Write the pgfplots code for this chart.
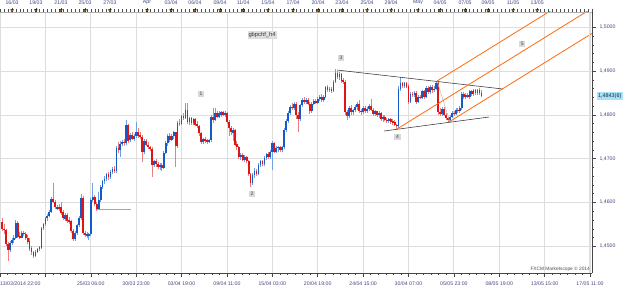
\documentclass[border=0pt]{standalone}
\usepackage{pgfplots}
\pgfplotsset{compat=1.18}
\usepackage{pgfplotstable}
\usepackage{fontspec}
\setmainfont{Liberation Sans}
\definecolor{lbl}{RGB}{70,70,130}
\definecolor{gridc}{RGB}{222,222,222}
\definecolor{pitch}{RGB}{255,105,10}
\definecolor{tri}{RGB}{245,165,20}
\pgfplotsset{
 colormap={bodymap}{rgb255=(225,20,20) rgb255=(225,20,20) rgb255=(20,90,200) rgb255=(20,90,200)},
 colormap={wickmap}{rgb255=(240,125,125) rgb255=(240,125,125) rgb255=(110,160,230) rgb255=(110,160,230)},
}
\pgfplotstableread{
x o h l c
1 1.4556 1.4565 1.4536 1.4540
2 1.4540 1.4550 1.4528 1.4537
3 1.4537 1.4540 1.4500 1.4505
4 1.4505 1.4510 1.4467 1.4492
5 1.4492 1.4512 1.4488 1.4508
6 1.4508 1.4518 1.4504 1.4514
7 1.4514 1.4525 1.4508 1.4520
8 1.4520 1.4560 1.4516 1.4554
9 1.4554 1.4558 1.4518 1.4522
10 1.4524 1.4532 1.4516 1.4520
11 1.4520 1.4535 1.4518 1.4530
12 1.4530 1.4536 1.4524 1.4527
13 1.4528 1.4532 1.4515 1.4520
14 1.4520 1.4525 1.4505 1.4510
15 1.4512 1.4518 1.4490 1.4494
16 1.4495 1.4500 1.4480 1.4486
17 1.4488 1.4490 1.4474 1.4478
18 1.4478 1.4492 1.4476 1.4488
19 1.4488 1.4496 1.4484 1.4494
20 1.4494 1.4500 1.4490 1.4498
21 1.4497 1.4545 1.4494 1.4542
22 1.4542 1.4554 1.4538 1.4550
23 1.4550 1.4568 1.4546 1.4565
24 1.4565 1.4574 1.4558 1.4570
25 1.4570 1.4582 1.4566 1.4578
26 1.4578 1.4612 1.4576 1.4609
27 1.4609 1.4645 1.4598 1.4602
28 1.4602 1.4606 1.4586 1.4590
29 1.4586 1.4594 1.4582 1.4590
30 1.4590 1.4596 1.4580 1.4584
31 1.4590 1.4600 1.4572 1.4576
32 1.4578 1.4582 1.4560 1.4564
33 1.4562 1.4576 1.4558 1.4572
34 1.4572 1.4575 1.4554 1.4558
35 1.4560 1.4566 1.4552 1.4556
36 1.4558 1.4560 1.4530 1.4535
37 1.4535 1.4540 1.4512 1.4516
38 1.4516 1.4535 1.4512 1.4530
39 1.4530 1.4552 1.4526 1.4548
40 1.4548 1.4570 1.4544 1.4565
41 1.4565 1.4620 1.4560 1.4610
42 1.4610 1.4614 1.4526 1.4530
43 1.4530 1.4536 1.4522 1.4526
44 1.4524 1.4532 1.4520 1.4528
45 1.4524 1.4530 1.4514 1.4527
46 1.4527 1.4610 1.4524 1.4606
47 1.4606 1.4645 1.4600 1.4612
48 1.4612 1.4616 1.4592 1.4596
49 1.4596 1.4600 1.4581 1.4584
50 1.4584 1.4625 1.4582 1.4606
51 1.4606 1.4640 1.4602 1.4636
52 1.4636 1.4652 1.4630 1.4648
53 1.4648 1.4660 1.4642 1.4654
54 1.4654 1.4668 1.4648 1.4664
55 1.4664 1.4670 1.4652 1.4658
56 1.4658 1.4675 1.4654 1.4670
57 1.4670 1.4680 1.4664 1.4676
58 1.4676 1.4684 1.4668 1.4672
59 1.4672 1.4730 1.4668 1.4725
60 1.4725 1.4738 1.4712 1.4720
61 1.4720 1.4740 1.4705 1.4734
62 1.4734 1.4742 1.4728 1.4738
63 1.4738 1.4745 1.4730 1.4735
64 1.4735 1.4788 1.4732 1.4777
65 1.4777 1.4780 1.4735 1.4740
66 1.4742 1.4758 1.4738 1.4754
67 1.4754 1.4760 1.4742 1.4746
68 1.4746 1.4756 1.4740 1.4752
69 1.4752 1.4784 1.4748 1.4762
70 1.4762 1.4770 1.4748 1.4752
71 1.4754 1.4760 1.4745 1.4750
72 1.4750 1.4755 1.4692 1.4715
73 1.4715 1.4745 1.4710 1.4740
74 1.4740 1.4746 1.4728 1.4732
75 1.4732 1.4738 1.4722 1.4726
76 1.4726 1.4730 1.4718 1.4722
77 1.4722 1.4726 1.4658 1.4686
78 1.4686 1.4698 1.4680 1.4694
79 1.4694 1.4700 1.4682 1.4688
80 1.4688 1.4692 1.4676 1.4680
81 1.4680 1.4690 1.4674 1.4686
82 1.4686 1.4690 1.4672 1.4678
83 1.4678 1.4718 1.4676 1.4714
84 1.4714 1.4740 1.4710 1.4735
85 1.4735 1.4756 1.4730 1.4752
86 1.4752 1.4758 1.4738 1.4742
87 1.4742 1.4756 1.4740 1.4752
88 1.4752 1.4764 1.4746 1.4760
89 1.4760 1.4762 1.4682 1.4730
90 1.4730 1.4786 1.4725 1.4782
91 1.4782 1.4790 1.4775 1.4780
92 1.4780 1.4800 1.4778 1.4798
93 1.4798 1.4804 1.4788 1.4792
94 1.4792 1.4827 1.4790 1.4812
95 1.4812 1.4827 1.4780 1.4784
96 1.4784 1.4796 1.4778 1.4792
97 1.4792 1.4796 1.4778 1.4782
98 1.4782 1.4794 1.4776 1.4790
99 1.4790 1.4792 1.4774 1.4778
100 1.4780 1.4786 1.4770 1.4774
101 1.4774 1.4778 1.4752 1.4758
102 1.4758 1.4762 1.4734 1.4738
103 1.4738 1.4748 1.4734 1.4745
104 1.4745 1.4750 1.4736 1.4740
105 1.4742 1.4746 1.4733 1.4738
106 1.4738 1.4746 1.4735 1.4742
107 1.4742 1.4800 1.4738 1.4795
108 1.4795 1.4816 1.4782 1.4788
109 1.4788 1.4815 1.4785 1.4805
110 1.4805 1.4810 1.4792 1.4796
111 1.4796 1.4808 1.4794 1.4804
112 1.4800 1.4810 1.4796 1.4806
113 1.4806 1.4808 1.4798 1.4800
114 1.4800 1.4808 1.4796 1.4804
115 1.4804 1.4806 1.4780 1.4784
116 1.4784 1.4788 1.4752 1.4770
117 1.4770 1.4774 1.4755 1.4760
118 1.4758 1.4770 1.4740 1.4765
119 1.4765 1.4768 1.4728 1.4732
120 1.4734 1.4740 1.4720 1.4726
121 1.4726 1.4730 1.4700 1.4704
122 1.4704 1.4712 1.4698 1.4708
123 1.4708 1.4712 1.4694 1.4698
124 1.4698 1.4708 1.4692 1.4704
125 1.4704 1.4706 1.4690 1.4694
126 1.4694 1.4698 1.4660 1.4665
127 1.4665 1.4668 1.4635 1.4645
128 1.4645 1.4668 1.4640 1.4662
129 1.4662 1.4678 1.4656 1.4672
130 1.4672 1.4676 1.4660 1.4666
131 1.4666 1.4690 1.4662 1.4686
132 1.4686 1.4698 1.4680 1.4694
133 1.4694 1.4698 1.4684 1.4688
134 1.4688 1.4706 1.4684 1.4702
135 1.4702 1.4714 1.4698 1.4710
136 1.4710 1.4716 1.4700 1.4704
137 1.4704 1.4720 1.4700 1.4716
138 1.4716 1.4740 1.4674 1.4735
139 1.4735 1.4738 1.4712 1.4716
140 1.4716 1.4728 1.4712 1.4724
141 1.4724 1.4730 1.4716 1.4726
142 1.4726 1.4728 1.4716 1.4720
143 1.4720 1.4730 1.4716 1.4726
144 1.4726 1.4770 1.4722 1.4765
145 1.4765 1.4790 1.4760 1.4786
146 1.4786 1.4808 1.4782 1.4804
147 1.4804 1.4822 1.4800 1.4818
148 1.4818 1.4828 1.4812 1.4815
149 1.4815 1.4830 1.4812 1.4826
150 1.4826 1.4830 1.4790 1.4800
151 1.4800 1.4806 1.4762 1.4790
152 1.4790 1.4826 1.4786 1.4822
153 1.4822 1.4838 1.4818 1.4834
154 1.4834 1.4840 1.4826 1.4830
155 1.4830 1.4838 1.4826 1.4835
156 1.4835 1.4838 1.4822 1.4826
157 1.4826 1.4830 1.4802 1.4808
158 1.4808 1.4830 1.4805 1.4826
159 1.4826 1.4836 1.4822 1.4832
160 1.4832 1.4836 1.4824 1.4828
161 1.4828 1.4840 1.4825 1.4836
162 1.4836 1.4846 1.4832 1.4842
163 1.4842 1.4848 1.4830 1.4834
164 1.4834 1.4845 1.4830 1.4842
165 1.4842 1.4866 1.4838 1.4864
166 1.4864 1.4868 1.4852 1.4856
167 1.4856 1.4864 1.4852 1.4860
168 1.4860 1.4864 1.4850 1.4855
169 1.4855 1.4880 1.4852 1.4876
170 1.4876 1.4904 1.4872 1.4896
171 1.4896 1.4900 1.4882 1.4886
172 1.4886 1.4898 1.4880 1.4893
173 1.4893 1.4896 1.4874 1.4878
174 1.4880 1.4884 1.4870 1.4875
175 1.4875 1.4880 1.4800 1.4806
176 1.4806 1.4812 1.4788 1.4798
177 1.4798 1.4820 1.4794 1.4816
178 1.4816 1.4822 1.4800 1.4806
179 1.4806 1.4814 1.4800 1.4811
180 1.4811 1.4822 1.4806 1.4818
181 1.4818 1.4830 1.4812 1.4826
182 1.4826 1.4834 1.4804 1.4808
183 1.4808 1.4814 1.4800 1.4806
184 1.4806 1.4820 1.4802 1.4816
185 1.4816 1.4820 1.4804 1.4808
186 1.4808 1.4818 1.4804 1.4814
187 1.4814 1.4824 1.4810 1.4820
188 1.4820 1.4836 1.4808 1.4812
189 1.4812 1.4816 1.4798 1.4802
190 1.4802 1.4812 1.4798 1.4808
191 1.4808 1.4810 1.4796 1.4800
192 1.4800 1.4808 1.4794 1.4804
193 1.4804 1.4806 1.4786 1.4790
194 1.4790 1.4800 1.4784 1.4796
195 1.4796 1.4800 1.4786 1.4788
196 1.4788 1.4792 1.4782 1.4786
197 1.4786 1.4794 1.4782 1.4790
198 1.4790 1.4792 1.4780 1.4784
199 1.4786 1.4790 1.4778 1.4782
200 1.4784 1.4788 1.4774 1.4778
201 1.4778 1.4780 1.4768 1.4774
202 1.4774 1.4866 1.4770 1.4860
203 1.4860 1.4887 1.4855 1.4872
204 1.4872 1.4876 1.4862 1.4866
205 1.4866 1.4876 1.4862 1.4872
206 1.4872 1.4876 1.4862 1.4864
207 1.4866 1.4870 1.4826 1.4830
208 1.4830 1.4852 1.4828 1.4848
209 1.4848 1.4852 1.4842 1.4845
210 1.4845 1.4855 1.4840 1.4850
211 1.4850 1.4854 1.4826 1.4830
212 1.4830 1.4846 1.4828 1.4842
213 1.4842 1.4846 1.4836 1.4838
214 1.4838 1.4858 1.4836 1.4855
215 1.4855 1.4858 1.4836 1.4840
216 1.4840 1.4866 1.4838 1.4862
217 1.4862 1.4866 1.4848 1.4852
218 1.4852 1.4868 1.4848 1.4864
219 1.4864 1.4868 1.4850 1.4856
220 1.4856 1.4866 1.4852 1.4860
221 1.4860 1.4878 1.4856 1.4874
222 1.4874 1.4877 1.4800 1.4806
223 1.4806 1.4816 1.4798 1.4802
224 1.4802 1.4818 1.4798 1.4814
225 1.4814 1.4818 1.4798 1.4800
226 1.4800 1.4804 1.4788 1.4792
227 1.4792 1.4796 1.4784 1.4788
228 1.4788 1.4800 1.4784 1.4796
229 1.4796 1.4808 1.4792 1.4804
230 1.4804 1.4810 1.4798 1.4801
231 1.4801 1.4816 1.4800 1.4812
232 1.4812 1.4816 1.4804 1.4808
233 1.4808 1.4820 1.4804 1.4816
234 1.4816 1.4852 1.4812 1.4848
235 1.4848 1.4852 1.4836 1.4840
236 1.4840 1.4850 1.4836 1.4846
237 1.4846 1.4850 1.4838 1.4840
238 1.4840 1.4858 1.4836 1.4854
239 1.4854 1.4858 1.4844 1.4848
240 1.4848 1.4860 1.4844 1.4856
241 1.4856 1.4860 1.4846 1.4850
242 1.4850 1.4860 1.4846 1.4858
243 1.4858 1.4862 1.4846 1.4850
244 1.4850 1.4856 1.4840 1.4843
}\candles
\newcommand\tinyf{\fontsize{5.2}{6}\selectfont}
\begin{document}
\begin{tikzpicture}
\useasboundingbox (0pt,0pt) rectangle (625pt,288pt);
\begin{axis}[
  at={(0pt,15pt)}, anchor=south west,
  width=592pt, height=261pt, scale only axis,
  xmin=0, xmax=300, ymin=1.4439, ymax=1.5035,
  axis x line*=bottom, axis y line*=right,
  axis line style={draw=gray!55!black, line width=0.6pt, -},
  tick align=outside, major tick length=4pt, minor tick length=2pt,
  tick style={gray!55!black, line width=0.5pt},
  xtick={0,23,...,299},
  minor x tick num=5,
  xticklabels={\makebox[0pt][l]{13/03/2014 22:00},,25/03 06:00,30/03 23:00,03/04 19:00,09/04 11:00,15/04 03:00,20/04 19:00,24/04 15:00,30/04 07:00,05/05 23:00,08/05 19:00,13/05 15:00,17/05 11:00},
  xticklabel style={yshift=-1pt},
  ytick={1.45,1.46,1.47,1.48,1.49,1.50},
  yticklabels={{1,4500},{1,4600},{1,4700},{1,4800},{1,4900},{1,5000}},
  minor y tick num=4,
  grid=major, major grid style={gridc, line width=0.8pt},
  ticklabel style={font=\tinyf, text=lbl},
]
% wicks
\addplot[quiver={u=0, v=\thisrow{h}-\thisrow{l}, colored=mapped color},
  colormap name=wickmap, point meta={\thisrow{c}-\thisrow{o}},
  point meta min=-0.0001, point meta max=0.0001, line width=0.65pt]
  table[x=x, y=l]{\candles};
% bodies
\addplot[quiver={u=0, v=\thisrow{c}-\thisrow{o}, colored=mapped color},
  colormap name=bodymap, point meta={\thisrow{c}-\thisrow{o}},
  point meta min=-0.0001, point meta max=0.0001, line width=1.75pt]
  table[x=x, y=o]{\candles};
% horizontal level
\addplot[gray!70, line width=0.9pt] coordinates {(49.2,1.4584) (66.4,1.4584)};
% triangle
\addplot[gray!40!black, line width=0.55pt] coordinates {(170.8,1.49025) (254.9,1.48591)};
\addplot[gray!40!black, line width=0.55pt] coordinates {(194.6,1.47632) (247.8,1.47952)};
\addplot[gray!55, line width=0.5pt] coordinates {(221.5,1.48774) (228.0,1.47838)};
% pitchfork
\addplot[pitch, line width=0.8pt] coordinates {(221.5,1.48774) (290,1.50685)};
\addplot[pitch, line width=0.8pt] coordinates {(201.2,1.47678) (300,1.50435)};
\addplot[pitch, line width=0.8pt] coordinates {(227.5,1.47838) (300,1.49861)};
% labels
\tikzset{wl/.style={fill=gray!30, text=black!75, font=\fontsize{5}{6}\selectfont, inner sep=0.8pt, minimum width=6.5pt, minimum height=6pt}}
\node[wl] at (axis cs:101.9,1.48477) {1};
\node[wl] at (axis cs:127.7,1.46194) {2};
\node[wl] at (axis cs:172.8,1.49299) {3};
\node[wl] at (axis cs:201.5,1.47496) {4};
\node[wl] at (axis cs:264.6,1.49619) {5};
\node[fill=gray!25, text=black!80, font=\fontsize{5.8}{7}\selectfont, inner sep=1pt] at (axis cs:132.8,1.49824) {gbpchf\_h4};
\end{axis}
\begin{axis}[
  at={(0pt,15pt)}, anchor=south west,
  width=592pt, height=261pt, scale only axis,
  xmin=0, xmax=300, ymin=0, ymax=1,
  axis x line*=top, axis y line=none,
  axis line style={draw=gray!60, line width=0.5pt, -},
  tick align=outside, major tick length=4pt, minor tick length=2.5pt,
  tick style={gray!60!black, line width=0.4pt},
  xtick={6.1,18.2,30.9,43.1,55.7,74.5,86.7,98.8,111.5,123.2,135.8,148.5,161.2,173.3,186.0,198.2,211.8,223.0,235.7,247.3,260.0,272.2},
  xticklabels={16/03,19/03,21/03,25/03,27/03,Apr,03/04,06/04,09/04,11/04,15/04,17/04,20/04,23/04,25/04,29/04,May,04/05,07/05,09/05,11/05,13/05},
  minor xtick={0,2,...,300},
  xticklabel style={font=\tinyf, text=lbl},
  clip=false,
]
\addplot[only marks, mark=triangle*, mark size=1.6pt, mark options={rotate=180, fill=tri, draw=none}]
 coordinates {(6.1,1.006) (18.2,1.006) (30.9,1.006) (43.1,1.006) (55.7,1.006) (74.5,1.006) (86.7,1.006) (98.8,1.006) (111.5,1.006) (123.2,1.006) (135.8,1.006) (148.5,1.006) (161.2,1.006) (173.3,1.006) (186.0,1.006) (198.2,1.006) (211.8,1.006) (223.0,1.006) (235.7,1.006) (247.3,1.006) (260.0,1.006) (272.2,1.006)};
\end{axis}
\draw[gray!25, line width=0.6pt] (589pt,15pt) -- (589pt,276pt);
\node[anchor=west, fill=cyan!35, text=black!85, font=\fontsize{5.4}{6}\selectfont, inner xsep=1.5pt, inner ysep=1pt] at (596.5pt,192pt) {1,4843(6)};
\node[anchor=east, text=black!70, font=\fontsize{4.8}{6}\selectfont, inner sep=0pt] at (590pt,19pt) {FXCM Marketscope © 2014};
\end{tikzpicture}
\end{document}
